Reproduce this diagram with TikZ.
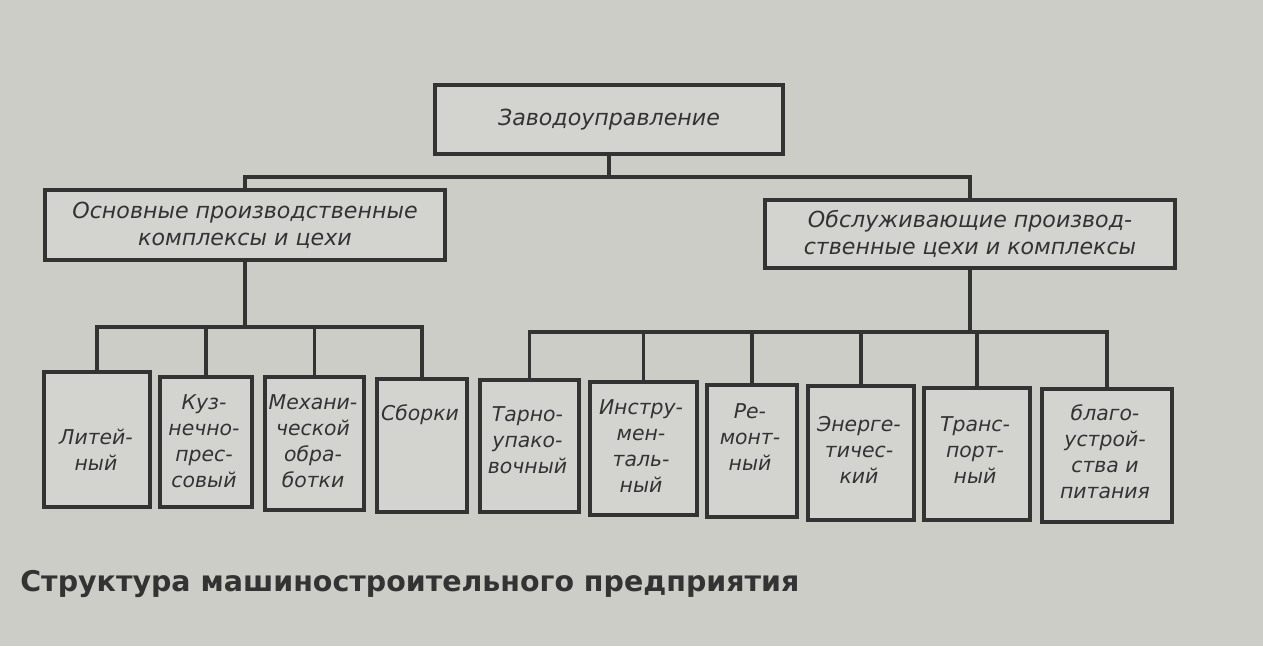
\documentclass[tikz,border=0pt]{standalone}
\usepackage{fontspec}
\setmainfont{DejaVu Sans}
\usepackage{tikz}
\usetikzlibrary{positioning}
\definecolor{paper}{HTML}{CDCDC8}
\definecolor{boxfill}{HTML}{D3D3CF}
\definecolor{ink}{HTML}{333333}

\begin{document}
\begin{tikzpicture}[
    every node/.style={text=ink},
    unit/.style={rectangle, draw=ink, fill=boxfill, line width=2.2pt, inner sep=0pt},
    shopbox/.style={unit, anchor=north west},
    link/.style={draw=ink, line width=2pt},
    toplabel/.style={font=\itshape\fontsize{12.6}{15}\selectfont},
    grouplabel/.style={font=\itshape\fontsize{12.6}{15.5}\selectfont, align=center},
    shoplabel/.style={font=\itshape\fontsize{11.6}{14.8}\selectfont, align=center},
]
\fill[paper] (0,0) rectangle (25.26,-12.92);
\useasboundingbox (0,0) rectangle (25.26,-12.92);
% management and the two groups
\node[unit, toplabel, minimum width=6.96cm, minimum height=1.38cm] (head) at (12.18,-2.39) {Заводоуправление};
\node[unit, grouplabel, minimum width=8.0cm, minimum height=1.4cm] (mainL) at (4.90,-4.50) {Основные производственные\\комплексы и цехи};
\node[unit, grouplabel, minimum width=8.2cm, minimum height=1.36cm] (mainR) at (19.40,-4.68) {Обслуживающие производ-\\ственные цехи и комплексы};
% shops
\node[shopbox, minimum width=2.12cm, minimum height=2.70cm] (lit) at (0.84,-7.40) {};
\node[shopbox, minimum width=1.84cm, minimum height=2.60cm] (kuz) at (3.16,-7.50) {};
\node[shopbox, minimum width=1.98cm, minimum height=2.66cm] (meh) at (5.26,-7.50) {};
\node[shopbox, minimum width=1.80cm, minimum height=2.66cm] (sbo) at (7.50,-7.54) {};
\node[shopbox, minimum width=1.98cm, minimum height=2.64cm] (tar) at (9.56,-7.56) {};
\node[shopbox, minimum width=2.14cm, minimum height=2.66cm] (ins) at (11.76,-7.60) {};
\node[shopbox, minimum width=1.80cm, minimum height=2.64cm] (rem) at (14.10,-7.66) {};
\node[shopbox, minimum width=2.12cm, minimum height=2.68cm] (ene) at (16.12,-7.68) {};
\node[shopbox, minimum width=2.12cm, minimum height=2.64cm] (tra) at (18.44,-7.72) {};
\node[shopbox, minimum width=2.60cm, minimum height=2.66cm] (bla) at (20.80,-7.74) {};
\node[shoplabel] (littxt) at (1.92,-9.00) {Литей-\\ный};
\node[shoplabel] (kuztxt) at (4.08,-8.82) {Куз-\\нечно-\\прес-\\совый};
\node[shoplabel] (mehtxt) at (6.26,-8.82) {Механи-\\ческой\\обра-\\ботки};
\node[shoplabel] (sbotxt) at (8.40,-8.30) {Сборки};
\node[shoplabel] (tartxt) at (10.55,-8.80) {Тарно-\\упако-\\вочный};
\node[shoplabel] (instxt) at (12.82,-8.92) {Инстру-\\мен-\\таль-\\ный};
\node[shoplabel] (remtxt) at (15.00,-8.74) {Ре-\\монт-\\ный};
\node[shoplabel] (enetxt) at (17.18,-9.00) {Энерге-\\тичес-\\кий};
\node[shoplabel] (tratxt) at (19.50,-9.00) {Транс-\\порт-\\ный};
\node[shoplabel] (blatxt) at (22.10,-9.04) {благо-\\устрой-\\ства и\\питания};
% connectors
\coordinate (j0) at (12.18,-3.54);
\draw[link] (head.south) -- (j0);
\draw[link] (mainL.north) |- (j0) -| (mainR.north);
\path (mainL.south) ++(0,-1.30) coordinate (busL);
\draw[link] (mainL.south) -- (busL);
\draw[link] (lit.north) |- (busL) -| (sbo.north);
\foreach \s in {kuz,meh} \draw[link] (\s.north) -- (\s.north |- busL);
\path (mainR.south) ++(0,-1.24) coordinate (busR);
\draw[link] (mainR.south) -- (busR);
\draw[link] (tar.north) |- (busR) -| (bla.north);
\foreach \s in {ins,rem,ene,tra} \draw[link] (\s.north) -- (\s.north |- busR);
\node[anchor=base west, inner sep=0pt, font=\bfseries\fontsize{16.2}{19}\selectfont] (caption) at (0.40,-11.82) {Структура машиностроительного предприятия};
\end{tikzpicture}
\end{document}
